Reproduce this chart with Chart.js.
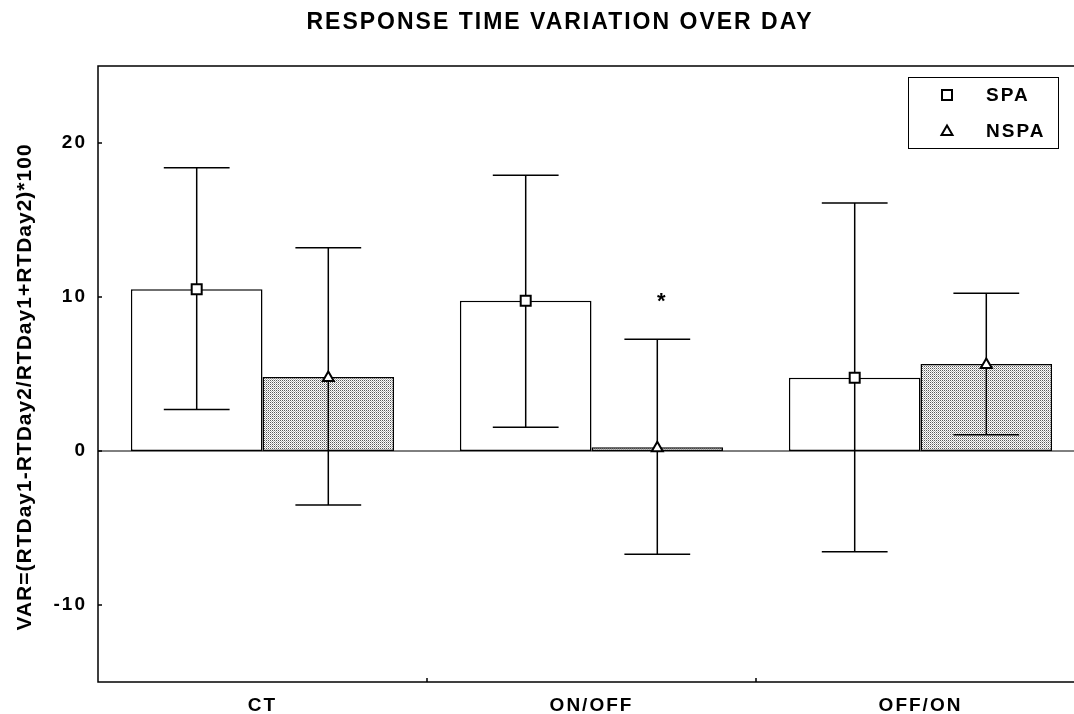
<!DOCTYPE html>
<html>
<head>
<meta charset="utf-8">
<script src="https://cdn.jsdelivr.net/npm/chart.js@4.4.1/dist/chart.umd.min.js"></script>
<style>
	html, body { margin: 0; padding: 0; background: #fff; overflow: hidden; }
</style>
</head>
<body>
<canvas id="chart" width="1124" height="714"></canvas>
<script>
// data
var categories = ['CT', 'ON/OFF', 'OFF/ON'];
var spaMean = [10.5, 9.75, 4.75];
var spaLow = [2.7, 1.55, -6.55];
var spaHigh = [18.4, 17.9, 16.1];
var nspaMean = [4.8, 0.25, 5.65];
var nspaLow = [-3.5, -6.7, 1.05];
var nspaHigh = [13.2, 7.25, 10.25];
var nspaSig = ['', '*', ''];
var yTicks = [-10, 0, 10, 20];

var FONT = '"Liberation Sans", Arial, sans-serif';

function dotPattern() {
	var c = document.createElement('canvas');
	c.width = 2; c.height = 2;
	var g = c.getContext('2d');
	g.fillStyle = '#fff'; g.fillRect(0, 0, 2, 2);
	g.fillStyle = '#5a5a5a'; g.fillRect(0, 0, 1, 1);
	g.fillStyle = '#b4b4b4'; g.fillRect(1, 1, 1, 1);
	return document.getElementById('chart').getContext('2d').createPattern(c, 'repeat');
}

function drawMarker(ctx, style, x, y) {
	ctx.save();
	ctx.fillStyle = '#fff';
	ctx.strokeStyle = '#000';
	ctx.lineWidth = 2;
	ctx.beginPath();
	if (style === 'rect') {
		ctx.rect(x - 5, y - 5, 10, 10);
	} else {
		ctx.moveTo(x, y - 5.5);
		ctx.lineTo(x + 5.5, y + 4);
		ctx.lineTo(x - 5.5, y + 4);
		ctx.closePath();
	}
	ctx.fill();
	ctx.stroke();
	ctx.restore();
}

var extras = {
	id: 'extras',
	beforeDraw: function(chart) {
		chart.ctx.letterSpacing = '2px';
	},
	beforeDatasetsDraw: function(chart) {
		var ctx = chart.ctx, a = chart.chartArea, y0 = chart.scales.y.getPixelForValue(0);
		ctx.save();
		ctx.strokeStyle = '#000';
		ctx.lineWidth = 1;
		ctx.beginPath();
		ctx.moveTo(a.left, y0);
		ctx.lineTo(a.right, y0);
		ctx.stroke();
		ctx.restore();
	},
	afterDatasetsDraw: function(chart) {
		var ctx = chart.ctx, ys = chart.scales.y;
		ctx.save();
		ctx.strokeStyle = '#000';
		ctx.lineWidth = 1.5;
		chart.data.datasets.forEach(function(ds, i) {
			var meta = chart.getDatasetMeta(i);
			meta.data.forEach(function(bar, j) {
				var x = bar.x;
				var yl = ys.getPixelForValue(ds.errLow[j]);
				var yh = ys.getPixelForValue(ds.errHigh[j]);
				var half = bar.width / 4;
				ctx.beginPath();
				ctx.moveTo(x, yl); ctx.lineTo(x, yh);
				ctx.moveTo(x - half, yl); ctx.lineTo(x + half, yl);
				ctx.moveTo(x - half, yh); ctx.lineTo(x + half, yh);
				ctx.stroke();
				drawMarker(ctx, ds.marker, x, bar.y);
				if (ds.sig && ds.sig[j]) {
					ctx.fillStyle = '#000';
					ctx.font = 'bold 22px ' + FONT;
					ctx.textAlign = 'center';
					ctx.textBaseline = 'middle';
					ctx.fillText(ds.sig[j], x + 5, yh - 37);
				}
			});
		});
		ctx.restore();
	},
	afterDraw: function(chart) {
		var ctx = chart.ctx, a = chart.chartArea;
		var xs = chart.scales.x, ys = chart.scales.y;
		ctx.save();
		ctx.strokeStyle = '#000';
		ctx.lineWidth = 1.5;
		ctx.strokeRect(a.left, a.top, a.right - a.left, a.bottom - a.top);

		// inward tick marks
		ctx.beginPath();
		yTicks.forEach(function(v) {
			var p = ys.getPixelForValue(v);
			ctx.moveTo(a.left, p); ctx.lineTo(a.left + 4, p);
		});
		for (var j = 0; j < categories.length - 1; j++) {
			var p = (xs.getPixelForValue(j) + xs.getPixelForValue(j + 1)) / 2;
			ctx.moveTo(p, a.bottom); ctx.lineTo(p, a.bottom - 4);
		}
		ctx.stroke();

		// y axis title
		ctx.fillStyle = '#000';
		ctx.letterSpacing = '1px';
		ctx.font = 'bold 21px ' + FONT;
		ctx.textAlign = 'center';
		ctx.textBaseline = 'middle';
		ctx.save();
		ctx.translate(25, 387);
		ctx.rotate(-Math.PI / 2);
		ctx.fillText('VAR=(RTDay1-RTDay2/RTDay1+RTDay2)*100', 0, 0);
		ctx.restore();

		// legend box in the corner
		ctx.letterSpacing = '2px';
		ctx.lineWidth = 1;
		ctx.strokeRect(908.5, 77.5, 150, 71);
		ctx.font = 'bold 19px ' + FONT;
		ctx.textAlign = 'left';
		chart.data.datasets.forEach(function(ds, i) {
			var ly = 95 + i * 36;
			drawMarker(ctx, ds.marker, 947, ly);
			ctx.fillStyle = '#000';
			ctx.fillText(ds.label, 986, ly + 1);
		});
		ctx.restore();
	}
};

var chart = new Chart(document.getElementById('chart'), {
	type: 'bar',
	data: {
		labels: categories,
		datasets: [
			{
				label: 'SPA',
				data: spaMean,
				errLow: spaLow,
				errHigh: spaHigh,
				marker: 'rect',
				backgroundColor: '#fff',
				borderColor: '#000',
				borderWidth: 1.5,
				borderSkipped: false,
				categoryPercentage: 0.8,
				barPercentage: 1.0
			},
			{
				label: 'NSPA',
				data: nspaMean,
				errLow: nspaLow,
				errHigh: nspaHigh,
				sig: nspaSig,
				marker: 'triangle',
				backgroundColor: dotPattern(),
				borderColor: '#000',
				borderWidth: 1.5,
				borderSkipped: false,
				categoryPercentage: 0.8,
				barPercentage: 1.0
			}
		]
	},
	options: {
		responsive: false,
		animation: false,
		layout: { padding: { left: 35, right: 39, top: 0, bottom: 0 } },
		plugins: {
			legend: { display: false },
			tooltip: { enabled: false },
			title: {
				display: true,
				text: 'RESPONSE TIME VARIATION OVER DAY',
				color: '#000',
				font: { family: FONT, size: 23, weight: 'bold' },
				padding: { top: 9, bottom: 29.4 }
			}
		},
		scales: {
			x: {
				grid: { display: false, drawTicks: false },
				border: { display: false },
				ticks: { color: '#000', font: { family: FONT, size: 19, weight: 'bold' }, padding: 12 },
				afterFit: function(s) { s.height = 32; }
			},
			y: {
				min: -15,
				max: 25,
				afterBuildTicks: function(s) { s.ticks = yTicks.map(function(v) { return { value: v }; }); },
				grid: { display: false, drawTicks: false },
				border: { display: false },
				ticks: { color: '#000', font: { family: FONT, size: 19, weight: 'bold' }, padding: 11 },
				afterFit: function(s) { s.width = 63; }
			}
		}
	},
	plugins: [extras]
});
</script>
</body>
</html>
